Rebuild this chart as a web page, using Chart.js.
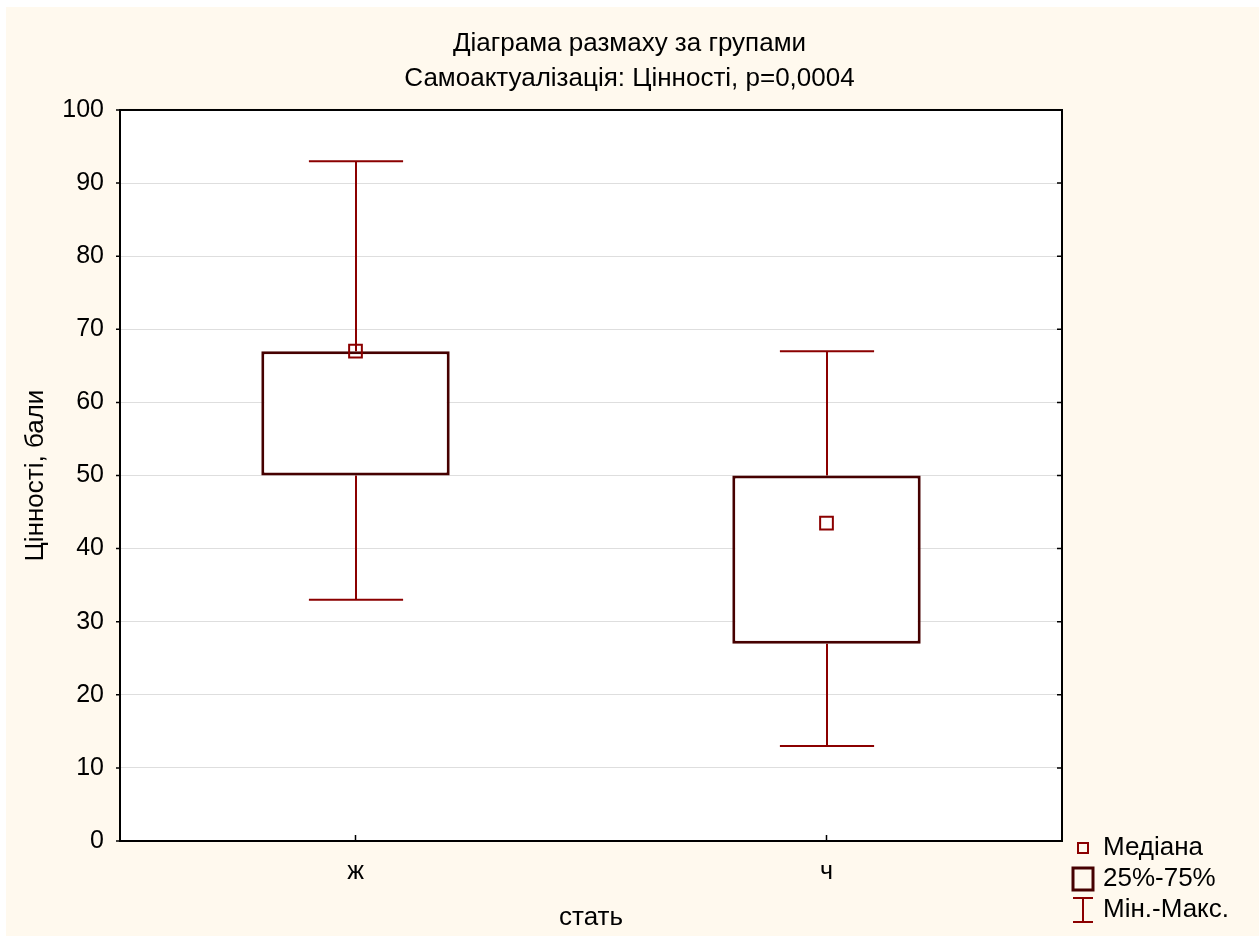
<!DOCTYPE html>
<html>
<head>
<meta charset="utf-8">
<title>Діаграма размаху за групами</title>
<script src="https://cdn.jsdelivr.net/npm/chart.js@4.4.0/dist/chart.umd.min.js"></script>
<style>
    html, body { margin: 0; padding: 0; background: #ffffff; }
    canvas { display: block; }
</style>
</head>
<body>
<canvas id="boxChart" width="1259" height="936"></canvas>
<script>
// Data
const groups = ['ж', 'ч'];
const mins = [33, 13];
const q1 = [50, 27];
const medians = [67, 43.5];
const q3 = [67, 50];
const maxs = [93, 67];
const yTicks = [0, 10, 20, 30, 40, 50, 60, 70, 80, 90, 100];
const titleLines = ['Діаграма размаху за групами', 'Самоактуалізація: Цінності, p=0,0004'];
const xTitle = 'стать';
const yTitle = 'Цінності, бали';
const legendLabels = ['Медіана', '25%-75%', 'Мін.-Макс.'];

const FONT = "'Liberation Sans', Arial, sans-serif";
const CREAM = '#fff9ee';
const WHISKER = '#8b0000';
const BOX = '#460000';

// page background, cream panel and white plot area
const backgroundPlugin = {
    id: 'background',
    beforeDraw(chart) {
        const {ctx, width, height, chartArea} = chart;
        ctx.save();
        ctx.fillStyle = '#ffffff';
        ctx.fillRect(0, 0, width, height);
        ctx.fillStyle = CREAM;
        ctx.fillRect(6, 7, width - 6, height - 7);
        ctx.fillStyle = '#ffffff';
        ctx.fillRect(chartArea.left, chartArea.top, chartArea.right - chartArea.left, chartArea.bottom - chartArea.top);
        ctx.restore();
    }
};

// whiskers (min-max) drawn behind the boxes
const whiskerPlugin = {
    id: 'whiskers',
    beforeDatasetsDraw(chart) {
        const {ctx} = chart;
        const xs = chart.scales.x;
        const ys = chart.scales.y;
        const capHalf = (xs.getPixelForValue(1) - xs.getPixelForValue(0)) * 0.1;
        ctx.save();
        ctx.strokeStyle = WHISKER;
        ctx.lineWidth = 2;
        groups.forEach((g, i) => {
            const x = Math.round(xs.getPixelForValue(i));
            const yMin = ys.getPixelForValue(mins[i]);
            const yMax = ys.getPixelForValue(maxs[i]);
            ctx.beginPath();
            ctx.moveTo(x, yMax);
            ctx.lineTo(x, ys.getPixelForValue(q3[i]));
            ctx.moveTo(x, ys.getPixelForValue(q1[i]));
            ctx.lineTo(x, yMin);
            ctx.moveTo(x - capHalf, yMax);
            ctx.lineTo(x + capHalf, yMax);
            ctx.moveTo(x - capHalf, yMin);
            ctx.lineTo(x + capHalf, yMin);
            ctx.stroke();
        });
        ctx.restore();
    }
};

// black frame round the plot and the small tick marks
const framePlugin = {
    id: 'frame',
    afterDatasetsDraw(chart) {
        const {ctx, chartArea} = chart;
        const {left, right, top, bottom} = chartArea;
        const xs = chart.scales.x;
        const ys = chart.scales.y;
        ctx.save();
        ctx.strokeStyle = '#000000';
        ctx.lineWidth = 2;
        ctx.strokeRect(left, top, right - left, bottom - top);
        ctx.lineWidth = 1.5;
        ctx.beginPath();
        yTicks.forEach(v => {
            const y = ys.getPixelForValue(v);
            ctx.moveTo(left - 4, y);
            ctx.lineTo(left, y);
            ctx.moveTo(right - 5, y);
            ctx.lineTo(right, y);
        });
        groups.forEach((g, i) => {
            const x = xs.getPixelForValue(i);
            ctx.moveTo(x, bottom - 6);
            ctx.lineTo(x, bottom);
        });
        ctx.stroke();
        ctx.restore();
    }
};

// legend in the lower right corner
const legendPlugin = {
    id: 'boxLegend',
    afterDraw(chart) {
        const {ctx, chartArea} = chart;
        const ix = chartArea.right + 21;
        const tx = chartArea.right + 41;
        const rows = [chartArea.bottom + 7, chartArea.bottom + 38, chartArea.bottom + 69];
        ctx.save();
        // median marker
        ctx.strokeStyle = WHISKER;
        ctx.lineWidth = 2;
        ctx.strokeRect(ix - 5, rows[0] - 5, 10, 10);
        // quartile box
        ctx.strokeStyle = BOX;
        ctx.lineWidth = 3;
        ctx.strokeRect(ix - 10, rows[1] - 11, 20, 22);
        // whisker
        ctx.strokeStyle = WHISKER;
        ctx.lineWidth = 2;
        ctx.beginPath();
        ctx.moveTo(ix - 10, rows[2] - 12);
        ctx.lineTo(ix + 10, rows[2] - 12);
        ctx.moveTo(ix, rows[2] - 12);
        ctx.lineTo(ix, rows[2] + 12);
        ctx.moveTo(ix - 10, rows[2] + 12);
        ctx.lineTo(ix + 10, rows[2] + 12);
        ctx.stroke();
        ctx.fillStyle = '#000000';
        ctx.font = '26px ' + FONT;
        ctx.textAlign = 'left';
        ctx.textBaseline = 'middle';
        legendLabels.forEach((t, i) => ctx.fillText(t, tx, rows[i]));
        ctx.restore();
    }
};

const ctx = document.getElementById('boxChart').getContext('2d');
new Chart(ctx, {
    type: 'bar',
    data: {
        labels: groups,
        datasets: [{
            type: 'line',
            label: legendLabels[0],
            data: medians,
            showLine: false,
            pointStyle: 'rect',
            pointRadius: 9,
            pointHoverRadius: 9,
            pointBorderWidth: 2,
            pointBorderColor: WHISKER,
            pointBackgroundColor: 'rgba(0,0,0,0)',
            order: 0
        }, {
            label: legendLabels[1],
            data: groups.map((g, i) => [q1[i], q3[i]]),
            backgroundColor: '#ffffff',
            borderColor: BOX,
            borderWidth: 3,
            borderSkipped: false,
            barPercentage: 0.4,
            categoryPercentage: 1.0,
            order: 1
        }]
    },
    options: {
        responsive: false,
        animation: false,
        layout: {
            padding: { left: 0, top: 7, right: 0, bottom: 0 }
        },
        scales: {
            x: {
                type: 'category',
                offset: true,
                grid: { display: false },
                border: { display: false },
                ticks: {
                    color: '#000000',
                    padding: 8,
                    font: { family: FONT, size: 25 }
                },
                title: {
                    display: true,
                    text: xTitle,
                    color: '#000000',
                    padding: { top: 0, bottom: 3 },
                    font: { family: FONT, size: 26 }
                },
                afterFit(scale) { scale.height = 95; }
            },
            y: {
                min: 0,
                max: 100,
                afterBuildTicks(scale) {
                    scale.ticks = yTicks.map(v => ({ value: v }));
                },
                grid: {
                    color: '#dedede',
                    lineWidth: 1,
                    drawTicks: false
                },
                border: { display: false },
                ticks: {
                    color: '#000000',
                    padding: 16,
                    font: { family: FONT, size: 25 }
                },
                title: {
                    display: true,
                    text: yTitle,
                    color: '#000000',
                    padding: { top: 20, bottom: 0 },
                    font: { family: FONT, size: 26 }
                },
                afterFit(scale) { scale.width = 120; }
            },
            // empty right-hand axis that keeps room for the legend
            yRight: {
                position: 'right',
                display: true,
                grid: { display: false },
                border: { display: false },
                ticks: { display: false },
                afterFit(scale) { scale.width = 197; }
            }
        },
        plugins: {
            legend: { display: false },
            tooltip: { enabled: false },
            title: {
                display: true,
                text: titleLines,
                color: '#000000',
                font: { family: FONT, size: 26, weight: 'normal', lineHeight: 1.346 },
                padding: { top: 19.5, bottom: 13.5 }
            }
        }
    },
    plugins: [backgroundPlugin, whiskerPlugin, framePlugin, legendPlugin]
});
</script>
</body>
</html>
